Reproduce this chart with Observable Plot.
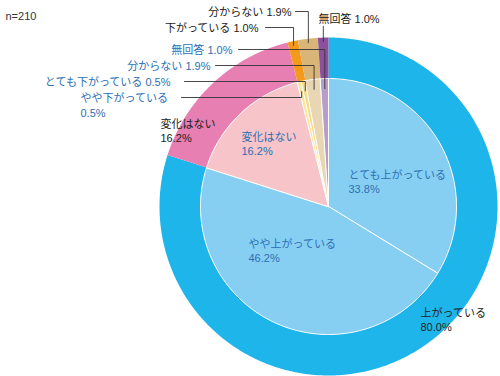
<!DOCTYPE html>
<html><head><meta charset="utf-8">
<script src="https://cdn.jsdelivr.net/npm/d3@7"></script>
<script src="https://cdn.jsdelivr.net/npm/@observablehq/plot@0.6"></script>
<style>body{margin:0;background:#fff}#chart{width:500px;height:376px}</style>
</head><body><div id="chart"></div>
<script>
// ---- data ----
const sampleSize = "n=210";
const outerCategories = ["上がっている", "変化はない", "下がっている", "分からない", "無回答"];
const outerValues = [80.0, 16.2, 1.0, 1.9, 1.0];
const innerCategories = ["とても上がっている", "やや上がっている", "変化はない", "やや下がっている", "とても下がっている", "分からない", "無回答"];
const innerValues = [33.8, 46.2, 16.2, 0.5, 0.5, 1.9, 1.0];

// ---- styles ----
const outerColors = ["#1eb5ea", "#e77fb2", "#f39a1c", "#d9b678", "#8b519f"];
const innerColors = ["#86cff3", "#86cff3", "#f6c4c9", "#fbe6a0", "#f8da80", "#e9d6b2", "#b79dcb"];
const DARK = "#222", BLUE = "#2d6fb3";
const FONT = "'Liberation Sans','Noto Sans CJK JP',sans-serif";

// ---- layout ----
const W = 500, H = 376, CX = 328, CY = 206, R_OUT = 169, R_IN = 128;
const X = px => px - CX, Y = py => CY - py;

function slices(cats, vals, prefix, r0, r1) {
  const total = d3.sum(vals);
  let acc = 0;
  return cats.map((c, i) => {
    const a0 = acc / total * 2 * Math.PI; acc += vals[i];
    const a1 = acc / total * 2 * Math.PI;
    return {key: prefix + c, cat: c, value: vals[i], a0, a1, r0, r1};
  });
}
function polygon(s) {
  const n = Math.max(2, Math.ceil((s.a1 - s.a0) * 180 / Math.PI * 2));
  const pts = [];
  for (let k = 0; k <= n; k++) { const a = s.a0 + (s.a1 - s.a0) * k / n; pts.push({key: s.key, x: s.r1 * Math.sin(a), y: s.r1 * Math.cos(a)}); }
  if (s.r0 > 0) for (let k = n; k >= 0; k--) { const a = s.a0 + (s.a1 - s.a0) * k / n; pts.push({key: s.key, x: s.r0 * Math.sin(a), y: s.r0 * Math.cos(a)}); }
  else pts.push({key: s.key, x: 0, y: 0});
  return pts;
}

const outer = slices(outerCategories, outerValues, "o", R_IN, R_OUT);
const inner = slices(innerCategories, innerValues, "i", 0, R_IN);
const bySlice = new Map([...outer, ...inner].map(s => [s.key, s]));
const outerPolys = outer.flatMap(polygon);
const innerPolys = inner.flatMap(polygon);

const layout = [
  {key: "o上がっている", x: 420, y: 319, anchor: "start", sep: "\n", color: DARK},
  {key: "o変化はない", x: 160, y: 130, anchor: "start", sep: "\n", color: DARK},
  {key: "o下がっている", x: 258, y: 27, anchor: "end", sep: " ", color: DARK, lineFrom: 265, lineR: 165},
  {key: "o分からない", x: 291, y: 11, anchor: "end", sep: " ", color: DARK, lineFrom: 295, lineR: 165},
  {key: "o無回答", x: 318, y: 18, anchor: "start", sep: " ", color: DARK, lineTop: 26, lineR: 165},
  {key: "iとても上がっている", x: 348, y: 181, anchor: "start", sep: "\n", color: BLUE},
  {key: "iやや上がっている", x: 248, y: 250, anchor: "start", sep: "\n", color: BLUE},
  {key: "i変化はない", x: 241, y: 143, anchor: "start", sep: "\n", color: BLUE},
  {key: "iやや下がっている", x: 80, y: 104.5, anchor: "start", sep: "\n", color: BLUE, lineFrom: 181, lineY: 97, lineR: 118},
  {key: "iとても下がっている", x: 170, y: 81, anchor: "end", sep: " ", color: BLUE, lineFrom: 184, lineR: 118},
  {key: "i分からない", x: 210, y: 65, anchor: "end", sep: " ", color: BLUE, lineFrom: 215, lineR: 118},
  {key: "i無回答", x: 232, y: 49, anchor: "end", sep: " ", color: BLUE, lineFrom: 238, lineR: 118}
];

const labels = layout.map(l => {
  const s = bySlice.get(l.key);
  return {...l, text: `${s.cat}${l.sep}${s.value.toFixed(1)}%`, px: X(l.x), py: Y(l.y)};
});
labels.push({text: sampleSize, px: X(5), py: Y(15), anchor: "start", color: "#333"});

const leaders = layout.filter(l => l.lineR).flatMap(l => {
  const s = bySlice.get(l.key);
  const mid = (s.a0 + s.a1) / 2;
  const xm = l.lineR * Math.sin(mid), ym = l.lineR * Math.cos(mid);
  const pts = [];
  if (l.lineFrom !== undefined) {
    const ly = Y(l.lineY ?? l.y);
    pts.push({key: l.key, x: X(l.lineFrom), y: ly}, {key: l.key, x: xm, y: ly});
  } else {
    pts.push({key: l.key, x: xm, y: Y(l.lineTop)});
  }
  pts.push({key: l.key, x: xm, y: ym});
  return pts;
});

const textGroups = d3.groups(labels, d => d.anchor + "|" + d.color);
const textMarks = textGroups.map(([k, arr]) => Plot.text(arr, {
  x: "px", y: "py", text: "text", textAnchor: arr[0].anchor, fill: arr[0].color,
  fontSize: 11, fontFamily: FONT, lineHeight: 1.3, lineAnchor: "middle"
}));

const chart = Plot.plot({
  width: W, height: H, margin: 0,
  x: {domain: [-CX, W - CX], axis: null},
  y: {domain: [CY - H, CY], axis: null},
  color: {domain: [...outer.map(d => d.key), ...inner.map(d => d.key)], range: [...outerColors, ...innerColors]},
  style: {background: "white", fontFamily: FONT, overflow: "visible"},
  marks: [
    Plot.line(outerPolys, {x: "x", y: "y", z: "key", fill: "key", stroke: "none", curve: "linear-closed"}),
    Plot.line(innerPolys, {x: "x", y: "y", z: "key", fill: "key", stroke: "white", strokeWidth: 1, curve: "linear-closed"}),
    Plot.line(leaders, {x: "x", y: "y", z: "key", stroke: "#333", strokeWidth: 0.9}),
    ...textMarks
  ]
});
document.getElementById("chart").append(chart);
</script>
</body></html>
